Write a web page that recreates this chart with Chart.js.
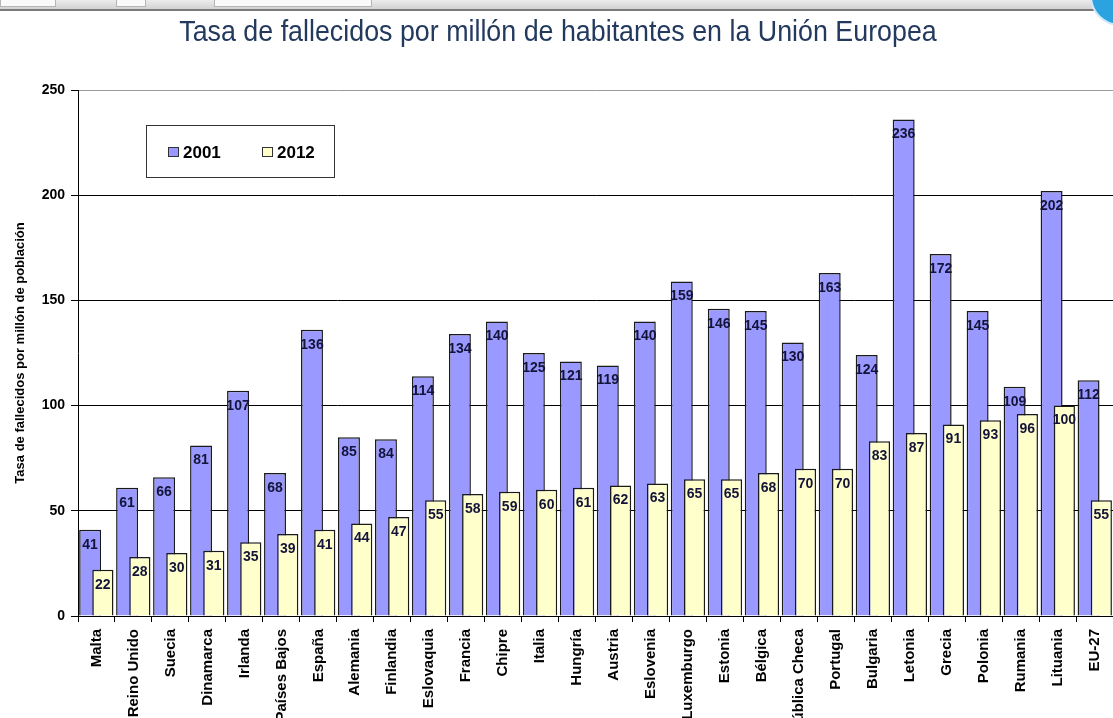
<!DOCTYPE html>
<html>
<head>
<meta charset="utf-8">
<script src="https://cdn.jsdelivr.net/npm/chart.js@4.4.1/dist/chart.umd.min.js"></script>
<style>
  html, body { margin: 0; padding: 0; background: #fff; overflow: hidden; }
  #wrap { position: relative; width: 1113px; height: 718px; overflow: hidden; }
  #chrome { position: absolute; left: 0; top: 0; width: 1113px; height: 9px;
    background: linear-gradient(#ececec, #d2d2d2); border-bottom: 2px solid #7a7a7a; }
  .btn { position: absolute; top: 0; height: 6px; background: #fafafa; border: 1px solid #b5b5b5; border-top: none; }
  #orb { position: absolute; left: 1090px; top: -34px; width: 56px; height: 56px; border-radius: 50%;
    background: #2ba3e0; border: 2px solid #cfe9f8; }
</style>
</head>
<body>
<div id="wrap">
  <canvas id="deathsBar" width="1120" height="718"></canvas>
  <div id="chrome">
    <div class="btn" style="left:0;width:54px"></div>
    <div class="btn" style="left:116px;width:28px"></div>
    <div class="btn" style="left:214px;width:156px"></div>
  </div>
  <div id="orb"></div>
</div>
<script>
const countries = [
  "Malta", "Reino Unido", "Suecia", "Dinamarca", "Irlanda", "Países Bajos", "España",
  "Alemania", "Finlandia", "Eslovaquia", "Francia", "Chipre", "Italia", "Hungría",
  "Austria", "Eslovenia", "Luxemburgo", "Estonia", "Bélgica", "República Checa",
  "Portugal", "Bulgaria", "Letonia", "Grecia", "Polonia", "Rumania", "Lituania", "EU-27"
];
const rate2001 = [41, 61, 66, 81, 107, 68, 136, 85, 84, 114, 134, 140, 125, 121, 119, 140, 159, 146, 145, 130, 163, 124, 236, 172, 145, 109, 202, 112];
const rate2012 = [22, 28, 30, 31, 35, 39, 41, 44, 47, 55, 58, 59, 60, 61, 62, 63, 65, 65, 68, 70, 70, 83, 87, 91, 93, 96, 100, 55];
const yTicks = [0, 50, 100, 150, 200, 250];
const chartTitle = "Tasa de fallecidos por millón de habitantes en la Unión Europea";

const FONT = "'Liberation Sans', Arial, sans-serif";

// chart.js paints dataset 0 last; the 2012 bars have to sit in front instead
const frontSecond = {
  id: "frontSecond",
  beforeDatasetDraw(chart, args) {
    if (args.index === 1) return false;
  },
  afterDatasetDraw(chart, args) {
    if (args.index === 0) {
      chart.getDatasetMeta(1).controller.draw();
    }
  },
};

// numbers written inside the top of every bar
const barLabels = {
  id: "barLabels",
  afterDatasetsDraw(chart) {
    const c = chart.ctx;
    c.save();
    c.font = "bold 14px " + FONT;
    c.fillStyle = "#14143a";
    c.textAlign = "center";
    c.textBaseline = "middle";
    chart.data.datasets.forEach((ds, i) => {
      chart.getDatasetMeta(i).data.forEach((bar, j) => {
        c.fillText(String(ds.data[j]), bar.x, bar.y + 15);
      });
    });
    c.restore();
  },
};

// narrow title (no condensed font installed, so squeeze it)
const narrowTitle = {
  id: "narrowTitle",
  afterDraw(chart) {
    const c = chart.ctx;
    c.save();
    c.translate(558, 33);
    c.scale(0.925, 1);
    c.font = "29px " + FONT;
    c.fillStyle = "#233a5e";
    c.textAlign = "center";
    c.textBaseline = "middle";
    c.fillText(chartTitle, 0, 0);
    c.restore();
  },
};

// boxed legend sitting inside the plot, like the spreadsheet one
const boxLegend = {
  id: "boxLegend",
  afterDraw(chart) {
    const c = chart.ctx;
    const a = chart.chartArea;
    const x0 = a.left + 68, y0 = a.top + 35;
    c.save();
    c.fillStyle = "#fff";
    c.fillRect(x0, y0, 188, 52);
    c.strokeStyle = "#333";
    c.lineWidth = 1;
    c.strokeRect(x0 + 0.5, y0 + 0.5, 188, 52);
    c.font = "bold 17px " + FONT;
    c.textBaseline = "middle";
    c.textAlign = "left";
    chart.data.datasets.forEach((ds, i) => {
      const sx = x0 + 22 + i * 94;
      c.fillStyle = ds.backgroundColor;
      c.fillRect(sx, y0 + 22, 11, 10);
      c.strokeStyle = "#333";
      c.strokeRect(sx + 0.5, y0 + 22.5, 10, 9);
      c.fillStyle = "#000";
      c.fillText(ds.label, sx + 15, y0 + 28);
    });
    c.restore();
  },
};

const ctx = document.getElementById("deathsBar").getContext("2d");

new Chart(ctx, {
  type: "bar",
  data: {
    labels: countries,
    datasets: [
      {
        label: "2001",
        data: rate2001,
        backgroundColor: "#9999ff",
        borderColor: "#1a1a1a",
        borderWidth: 1.5,
        borderSkipped: "bottom",
        categoryPercentage: 0.69,
        barPercentage: 1.72,
      },
      {
        label: "2012",
        data: rate2012,
        backgroundColor: "#ffffcc",
        borderColor: "#1a1a1a",
        borderWidth: 1.5,
        borderSkipped: "bottom",
        categoryPercentage: 0.69,
        barPercentage: 1.66,
      },
    ],
  },
  options: {
    responsive: false,
    animation: false,
    layout: { padding: { left: 0, right: 3, top: 90, bottom: 0 } },
    scales: {
      x: {
        afterFit: (scale) => { scale.height = 102; },
        grid: {
          drawOnChartArea: false,
          drawTicks: true,
          tickLength: 6,
          tickColor: "#000",
          offset: true,
        },
        border: { color: "#000", width: 1 },
        ticks: {
          autoSkip: false,
          minRotation: 90,
          maxRotation: 90,
          padding: 7,
          color: "#000",
          font: { family: FONT, size: 15, weight: "bold" },
        },
      },
      y: {
        min: 0,
        max: 250,
        afterFit: (scale) => { scale.width = 78; },
        afterBuildTicks: (scale) => {
          scale.ticks = yTicks.map((v) => ({ value: v }));
        },
        grid: {
          color: (c) => (c.tick && c.tick.value === 250 ? "#9a9a9a" : "#000"),
          tickColor: "#000",
          tickLength: 7,
        },
        border: { color: "#000", width: 1 },
        ticks: {
          padding: 6,
          color: "#000",
          font: { family: FONT, size: 14, weight: "bold" },
        },
        title: {
          display: true,
          text: "Tasa de fallecidos por millón de población",
          color: "#000",
          padding: { top: 13, bottom: 0 },
          font: { family: FONT, size: 13, weight: "bold" },
        },
      },
    },
    plugins: {
      legend: { display: false },
      tooltip: { enabled: false },
      title: { display: false },
    },
  },
  plugins: [frontSecond, barLabels, narrowTitle, boxLegend],
});
</script>
</body>
</html>
